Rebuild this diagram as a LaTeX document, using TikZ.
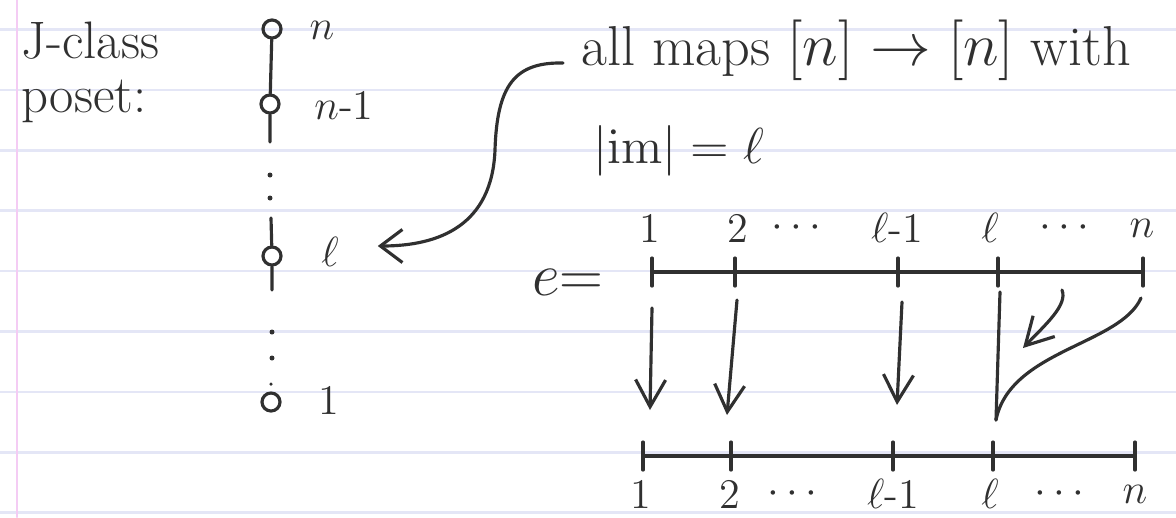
\documentclass[tikz,border=0pt]{standalone}
\usepackage{tikz}
\usepackage{amsmath}
\usetikzlibrary{arrows.meta, positioning, calc}
\definecolor{inkgray}{RGB}{48, 48, 48}
\definecolor{rulelilac}{RGB}{228, 230, 246}
\definecolor{marginpink}{RGB}{244, 204, 244}

\begin{document}
\begin{tikzpicture}[x=0.01cm, y=-0.01cm, line width=0.9pt, line cap=round,
  dotnode/.style={circle, draw=inkgray, line width=0.9pt, minimum size=0.18cm, inner sep=0pt},
  bullet/.style={circle, fill=inkgray, minimum size=0.05cm, inner sep=0pt},
  lbl/.style={text=inkgray, font=\large, inner sep=1pt},
  hand/.style={text=inkgray, font=\fontsize{16}{19}\selectfont, inner sep=0pt, anchor=base west},
  maparrow/.style={draw=inkgray, -{Straight Barb[length=2.7mm, width=3mm]}}]
  \useasboundingbox (0,0) rectangle (1176,517);

  % ruled paper
  \foreach \k in {0,...,8}
    \draw[rulelilac, line width=0.7pt] (0,{29.5+60.4*\k}) -- (1176,{29.5+60.4*\k});
  \draw[marginpink, line width=0.8pt] (17,0) -- (17,517);

  % poset chain
  \node[hand, font=\fontsize{15}{18}\selectfont] (jclass) at (20,58) {J-class};
  \node[hand, font=\fontsize{15}{18}\selectfont] (poset) at (20,112) {poset:};

  \node[dotnode] (pn) at (272,29) {};
  \node[dotnode] (pn1) at (270,104) {};
  \node[dotnode] (pl) at (272,256) {};
  \node[dotnode] (p1) at (271,402) {};
  \node[bullet] (d1) at (270,175) {};
  \node[bullet] (d2) at (270,198) {};
  \node[bullet] (d3) at (272,332) {};
  \node[bullet] (d4) at (272,358) {};
  \node[bullet, minimum size=0.035cm] (d5) at (271,384) {};
  \coordinate (c1) at (270,142);
  \coordinate (c2) at (271,218);
  \coordinate (c3) at (272,290);
  \draw[inkgray] (pn) -- (pn1) -- (c1);
  \draw[inkgray] (c2) -- (pl) -- (c3);

  \node[lbl] (ln) at (322,30) {$n$};
  \node[lbl] (ln1) at (344,105) {$n$-1};
  \node[lbl] (lell) at (330,252) {$\ell$};
  \node[lbl] (lone) at (329,400) {1};

  % the J-class of rank l
  \node[hand] (maps) at (580,65) {all maps $[n]\to[n]$ with};
  \node[hand, font=\fontsize{14}{17}\selectfont] (imeq) at (592,163) {$|\mathrm{im}|=\ell$};
  \draw[inkgray, -{Straight Barb[length=2.2mm, width=3.3mm]}]
    ($(maps.base west)+(-17,-2)$) .. controls (515,62) and (497,85) .. (495,150)
    .. controls (492,225) and (440,246) .. ($(lell.east)+(34,-6)$);

  % the idempotent e
  \node[hand, anchor=center] (eq) at (568,282) {$e{=}$};
  \foreach \x/\lab [count=\i] in {650/1, 738/2, 800/$\cdots$, 897/$\ell$-1, 990/$\ell$, 1068/$\cdots$, 1142/$n$}
    \node[lbl] (top\i) at (\x,228) {\lab};
  \foreach \x/\lab [count=\i] in {641/1, 730/2, 796/$\cdots$, 893/$\ell$-1, 990/$\ell$, 1063/$\cdots$, 1135/$n$}
    \node[lbl] (bot\i) at (\x,494) {\lab};

  \foreach \x [count=\i] in {652,735,898,998,1143} {
    \coordinate (t\i) at (\x,272);
    \draw[inkgray] ($(t\i)+(0,-14)$) -- ($(t\i)+(0,14)$);
  }
  \foreach \x [count=\i] in {643,731,893,993,1135} {
    \coordinate (b\i) at (\x,456);
    \draw[inkgray] ($(b\i)+(0,-14)$) -- ($(b\i)+(0,14)$);
  }
  \draw[inkgray] (t1) -- (t5);
  \draw[inkgray] (b1) -- (b5);

  \coordinate (s1) at (652,308); \coordinate (e1) at (650,410);
  \coordinate (s2) at (737,300); \coordinate (e2) at (727,415);
  \coordinate (s3) at (902,302); \coordinate (e3) at (897,405);
  \coordinate (s4) at (1000,292); \coordinate (e4) at (996,420);
  \coordinate (s5) at (1141,298);
  \coordinate (s6) at (1062,290); \coordinate (e6) at (1023,348);
  \draw[maparrow] (s1) -- (e1);
  \draw[maparrow] (s2) -- (e2);
  \draw[maparrow] (s3) -- (e3);
  \draw[inkgray] (s4) -- (e4);
  \draw[inkgray] (s5) .. controls (1120,345) and (1010,350) .. (e4);
  \draw[maparrow] (s6) .. controls (1068,305) and (1045,325) .. (e6);
\end{tikzpicture}
\end{document}
